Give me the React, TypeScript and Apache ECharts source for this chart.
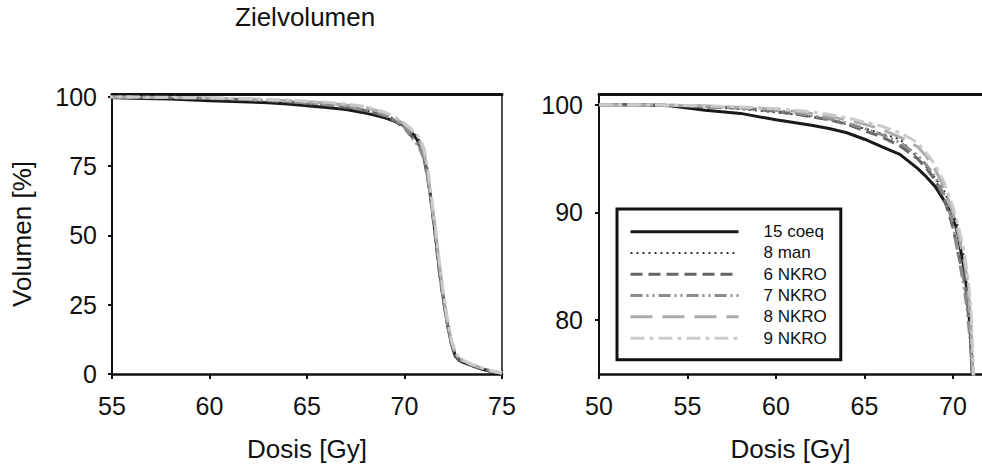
import React, { useEffect, useRef } from "react";
import * as echarts from "echarts";

// Dose grid (Gy) shared by all DVH curves
const dose = [50, 52, 54, 56, 58, 60, 62, 63, 64, 65, 66, 67, 68, 68.5, 69, 69.5, 70, 70.3, 70.6, 70.8, 71, 71.2, 71.4, 71.6, 71.8, 72, 72.2, 72.4, 72.6, 72.8, 73, 73.5, 74, 74.5, 75];

// Volume (%) per plan
const coeq15 = [100, 100, 99.9, 99.5, 99.2, 98.6, 98.1, 97.8, 97.4, 96.8, 96.1, 95.4, 94.1, 93.3, 92.4, 91.1, 89.6, 87.8, 85.0, 82.6, 78.5, 71, 61, 49, 37, 27, 18, 11, 6.5, 5.0, 4.2, 2.9, 1.7, 0.8, 0.2];
const man8 = [100, 100, 99.95, 99.8, 99.6, 99.3, 98.9, 98.6, 98.2, 97.8, 97.3, 96.8, 95.1, 94.2, 93.2, 92.0, 90.0, 88.6, 86.0, 83.8, 80.6, 73, 62, 51, 39, 28, 19, 12, 7.5, 5.5, 4.5, 3.1, 1.9, 0.9, 0.3];
const nkro6 = [100, 100, 99.95, 99.8, 99.7, 99.4, 98.9, 98.6, 98.2, 97.6, 97.0, 96.2, 95.0, 94.1, 93.0, 91.3, 88.6, 86.2, 84.0, 82.0, 78.0, 70, 60, 48, 36, 26, 18, 11, 7.0, 5.3, 4.4, 3.0, 1.8, 0.9, 0.3];
const nkro7 = [100, 100, 99.95, 99.85, 99.7, 99.5, 99.0, 98.7, 98.3, 97.8, 97.2, 96.5, 95.3, 94.4, 93.3, 91.6, 89.0, 86.0, 83.3, 81.0, 77.5, 70.5, 60.5, 49, 37.5, 27, 18, 11.5, 7.2, 5.6, 4.6, 3.2, 2.0, 1.0, 0.3];
const nkro8 = [100, 100, 99.95, 99.9, 99.75, 99.6, 99.2, 98.9, 98.6, 98.2, 97.7, 97.0, 96.1, 95.2, 94.0, 92.3, 90.0, 88.0, 85.8, 83.8, 80.0, 72, 62, 51, 39, 28, 19, 12, 7.8, 5.9, 4.8, 3.3, 2.0, 1.0, 0.3];
const nkro9 = [100, 100, 99.95, 99.9, 99.8, 99.65, 99.35, 99.1, 98.8, 98.4, 98.0, 97.4, 96.5, 95.5, 94.4, 92.8, 90.5, 88.7, 86.7, 84.5, 81.5, 74, 63, 52, 40, 29, 20, 12.5, 8.0, 6.0, 4.9, 3.4, 2.1, 1.1, 0.4];

const seriesNames = ["15 coeq", "8 man", "6 NKRO", "7 NKRO", "8 NKRO", "9 NKRO"];
const seriesValues = [coeq15, man8, nkro6, nkro7, nkro8, nkro9];

// Tick labels
const leftXTicks = [55, 60, 65, 70, 75];
const leftYTicks = [0, 25, 50, 75, 100];
const rightXTicks = [50, 55, 60, 65, 70];
const rightYTicks = [80, 90, 100];

const titleText = "Zielvolumen";
const xName = "Dosis [Gy]";
const yName = "Volumen [%]";

const styles = [
  { color: "#1a1a1a", width: 3, type: "solid" as any },
  { color: "#333333", width: 2, type: [2, 4] as any },
  { color: "#666666", width: 3, type: [12, 6] as any },
  { color: "#8c8c8c", width: 3, type: [12, 4, 2, 4, 2, 4] as any },
  { color: "#ababab", width: 3, type: [22, 10] as any },
  { color: "#cbcbcb", width: 3, type: [14, 5, 4, 5] as any },
];

const FONT = "'Liberation Sans', Arial, Helvetica, sans-serif";
const INK = "#111111";

export default function App() {
  const ref = useRef<HTMLDivElement>(null);

  useEffect(() => {
    if (!ref.current) return;
    const chart = echarts.init(ref.current, undefined, { renderer: "svg" });

    const tickLabel = { fontSize: 25, color: INK, fontFamily: FONT };
    const axisLine = (w: number) => ({ show: true, onZero: false, lineStyle: { color: INK, width: w } });
    const nameStyle = { fontSize: 26, color: INK, fontFamily: FONT };

    const series: any[] = [];
    seriesValues.forEach((vals, i) => {
      const data = dose.map((d, j) => [d, vals[j]]);
      const st = styles[i];
      [0, 1].forEach((plot) => {
        series.push({
          type: "line",
          name: seriesNames[i],
          xAxisIndex: plot === 0 ? 0 : 2,
          yAxisIndex: plot === 0 ? 0 : 2,
          data,
          symbol: "none",
          showSymbol: false,
          clip: true,
          lineStyle: { color: st.color, width: st.width, type: st.type },
          itemStyle: { color: st.color },
          emphasis: { disabled: true },
        });
      });
    });

    chart.setOption({
      animation: false,
      backgroundColor: "#ffffff",
      title: {
        text: titleText,
        left: 235,
        top: 4,
        padding: 0,
        textStyle: { fontSize: 26, fontWeight: "normal", color: INK, fontFamily: FONT },
      },
      legend: {
        data: seriesNames.map((n, i) => ({
          name: n,
          lineStyle: { color: styles[i].color, width: styles[i].width, type: styles[i].type },
        })),
        orient: "vertical",
        left: 617,
        top: 209,
        padding: [12, 14, 11, 12],
        itemGap: 0,
        itemWidth: 108,
        itemHeight: 12,
        backgroundColor: "#ffffff",
        borderColor: INK,
        borderWidth: 3,
        borderRadius: 0,
        selectedMode: false,
        itemStyle: { color: "rgba(0,0,0,0)", borderColor: "rgba(0,0,0,0)", borderWidth: 0, opacity: 0 },
        textStyle: { fontSize: 17, color: INK, fontFamily: FONT, lineHeight: 21.3, padding: [0, 0, 0, 20] },
      },
      grid: [
        { left: 112, top: 94, width: 390, height: 280, containLabel: false },
        { left: 599, top: 94, right: 0, height: 280, containLabel: false },
      ],
      xAxis: [
        {
          type: "value", gridIndex: 0, min: 55, max: 75, position: "bottom",
          axisLine: axisLine(2.5),
          axisTick: { show: true, length: 5, inside: false, lineStyle: { color: INK, width: 2 }, customValues: leftXTicks },
          axisLabel: { ...tickLabel, margin: 19, customValues: leftXTicks },
          splitLine: { show: false },
          name: xName, nameLocation: "middle", nameGap: 62, nameTextStyle: nameStyle,
        },
        {
          type: "value", gridIndex: 0, min: 55, max: 75, position: "top",
          axisLine: axisLine(3), axisTick: { show: false }, axisLabel: { show: false }, splitLine: { show: false },
        },
        {
          type: "value", gridIndex: 1, min: 50, max: 71.64, position: "bottom",
          axisLine: axisLine(2.5),
          axisTick: { show: true, length: 5, inside: false, lineStyle: { color: INK, width: 2 }, customValues: rightXTicks },
          axisLabel: { ...tickLabel, margin: 19, customValues: rightXTicks },
          splitLine: { show: false },
          name: xName, nameLocation: "middle", nameGap: 62, nameTextStyle: nameStyle,
        },
        {
          type: "value", gridIndex: 1, min: 50, max: 71.64, position: "top",
          axisLine: axisLine(3), axisTick: { show: false }, axisLabel: { show: false }, splitLine: { show: false },
        },
      ],
      yAxis: [
        {
          type: "value", gridIndex: 0, min: 0, max: 101, position: "left",
          axisLine: axisLine(2),
          axisTick: { show: true, length: 4, inside: false, lineStyle: { color: INK, width: 2 }, customValues: leftYTicks },
          axisLabel: { ...tickLabel, margin: 15, customValues: leftYTicks },
          splitLine: { show: false },
          name: yName, nameLocation: "middle", nameGap: 77, nameRotate: 90, nameTextStyle: nameStyle,
        },
        {
          type: "value", gridIndex: 0, min: 0, max: 101, position: "right",
          axisLine: axisLine(1.5), axisTick: { show: false }, axisLabel: { show: false }, splitLine: { show: false },
        },
        {
          type: "value", gridIndex: 1, min: 75, max: 101, position: "left",
          axisLine: axisLine(2),
          axisTick: { show: true, length: 4, inside: false, lineStyle: { color: INK, width: 2 }, customValues: rightYTicks },
          axisLabel: { ...tickLabel, margin: 16, customValues: rightYTicks },
          splitLine: { show: false },
        },
      ],
      series,
    });

    return () => chart.dispose();
  }, []);

  return (
    <div
      ref={ref}
      style={{ position: "fixed", left: 0, top: 0, width: 982, height: 470, background: "#fff" }}
    />
  );
}
